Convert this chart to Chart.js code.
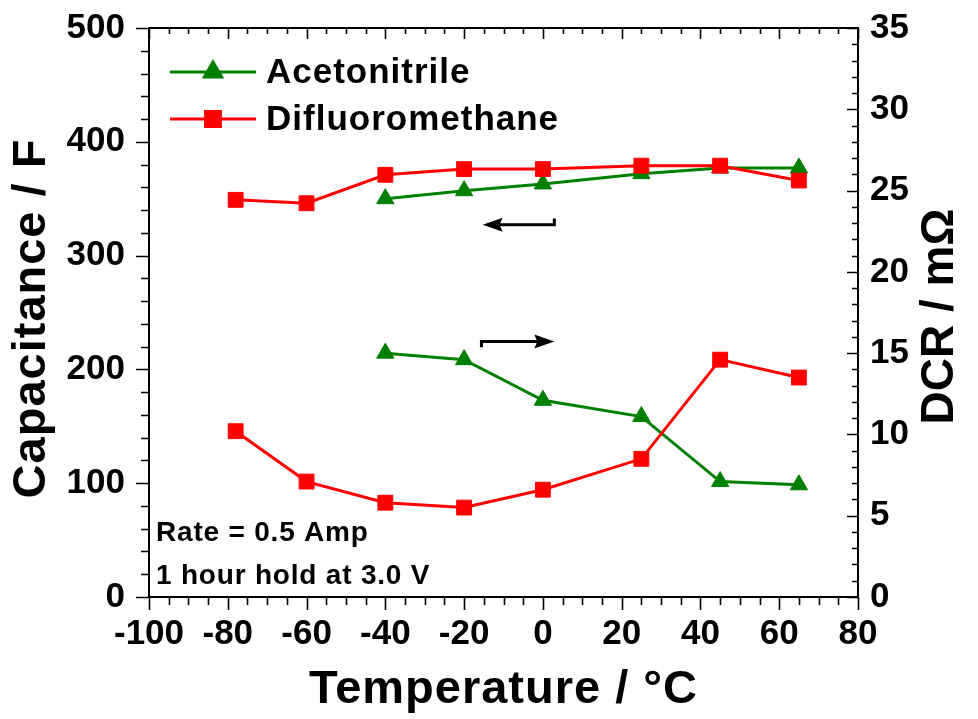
<!DOCTYPE html>
<html>
<head>
<meta charset="utf-8">
<script src="https://cdn.jsdelivr.net/npm/chart.js@4.4.0/dist/chart.umd.min.js"></script>
<style>
  html, body { margin: 0; padding: 0; background: #ffffff; }
  #wrap { width: 978px; height: 719px; }
</style>
</head>
<body>
<div id="wrap"><canvas id="c" width="978" height="719"></canvas></div>
<script>
// Temperatures (°C) of each measurement
const tempAcetonitrile = [-40, -20, 0, 25, 45, 65];
const tempDifluoromethane = [-78, -60, -40, -20, 0, 25, 45, 65];

// Capacitance (F), left axis
const capAcetonitrile = [350, 357, 363, 372, 377, 377];
const capDifluoromethane = [349, 346, 371, 376, 376, 379, 379, 366];

// DC resistance (mΩ), right axis
const dcrAcetonitrile = [15.0, 14.6, 12.1, 11.1, 7.1, 6.9];
const dcrDifluoromethane = [10.2, 7.1, 5.8, 5.5, 6.6, 8.5, 14.6, 13.5];

const seriesNames = ['Acetonitrile', 'Difluoromethane'];
const noteLines = ['Rate = 0.5 Amp', '1 hour hold at 3.0 V'];
const xTitle = 'Temperature / °C';
const yTitle = 'Capacitance / F';
const y1Title = 'DCR / mΩ';

const GREEN = '#008000';
const RED = '#ff0000';
const FONT = '"Liberation Sans", Arial, sans-serif';

function pts(xs, ys) { return xs.map((x, i) => ({ x: x, y: ys[i] })); }

function seriesStyle(color, shape, r) {
  return {
    borderColor: color, backgroundColor: color,
    pointBackgroundColor: color, pointBorderColor: color,
    borderWidth: 3, pointStyle: shape, pointRadius: r, pointHoverRadius: r,
    pointBorderWidth: 1, tension: 0, fill: false
  };
}

// fixed scale boxes so the plot area sits where it should
function fixBox(size, vertical) {
  return function (s) {
    if (vertical) { s.width = size; } else { s.height = size; }
    s.paddingTop = 0; s.paddingBottom = 0; s.paddingLeft = 0; s.paddingRight = 0;
  };
}

// minor/major ticks on all four sides plus the frame
const frameTicks = {
  id: 'frameTicks',
  afterDatasetsDraw(chart) {
    const ctx = chart.ctx, a = chart.chartArea;
    const sx = chart.scales.x, sy = chart.scales.y, sy1 = chart.scales.y1;
    ctx.save();
    ctx.strokeStyle = '#000';
    ctx.lineWidth = 2;
    ctx.lineCap = 'butt';
    ctx.beginPath();
    ctx.rect(a.left, a.top, a.right - a.left, a.bottom - a.top);
    ctx.stroke();
    ctx.lineWidth = 1.6;
    ctx.beginPath();
    // x: every 5, major every 20
    for (let v = -100; v <= 80; v += 5) {
      const px = Math.round(sx.getPixelForValue(v)) + 0.5;
      const major = v % 20 === 0;
      ctx.moveTo(px, a.bottom); ctx.lineTo(px, a.bottom + (major ? 13 : 8));
      ctx.moveTo(px, a.top); ctx.lineTo(px, a.top + (major ? 11 : 6));
    }
    // left: every 20, major every 100 (outward)
    for (let v = 0; v <= 500; v += 20) {
      const py = Math.round(sy.getPixelForValue(v)) + 0.5;
      const major = v % 100 === 0;
      ctx.moveTo(a.left, py); ctx.lineTo(a.left - (major ? 13 : 8), py);
    }
    // right: every 1, major every 5 (inward)
    for (let v = 0; v <= 35; v += 1) {
      const py = Math.round(sy1.getPixelForValue(v)) + 0.5;
      const major = v % 5 === 0;
      ctx.moveTo(a.right, py); ctx.lineTo(a.right - (major ? 11 : 6), py);
    }
    ctx.stroke();
    ctx.restore();
  }
};

// legend, arrows, notes and axis titles
const annotations = {
  id: 'annotations',
  afterDraw(chart) {
    const ctx = chart.ctx;
    const sx = chart.scales.x, sy = chart.scales.y;
    const a = chart.chartArea;
    ctx.save();

    // legend
    const entries = [
      { name: seriesNames[0], color: GREEN, shape: 'triangle', r: 10, y: 72 },
      { name: seriesNames[1], color: RED, shape: 'rect', r: 10.5, y: 119 }
    ];
    ctx.font = 'bold 35px ' + FONT;
    ctx.letterSpacing = '1px';
    ctx.textBaseline = 'middle';
    ctx.textAlign = 'left';
    entries.forEach(e => {
      ctx.strokeStyle = e.color; ctx.lineWidth = 3;
      ctx.beginPath(); ctx.moveTo(170, e.y); ctx.lineTo(256, e.y); ctx.stroke();
      ctx.fillStyle = e.color;
      Chart.helpers.drawPoint(ctx, { pointStyle: e.shape, radius: e.r, borderWidth: 1 }, 213, e.y);
      ctx.fill();
      ctx.fillStyle = '#000';
      ctx.fillText(e.name, 266, e.y + 1);
    });

    // arrows pointing at each series' axis
    ctx.strokeStyle = '#000'; ctx.fillStyle = '#000'; ctx.lineWidth = 3;
    const lx0 = sx.getPixelForValue(2.9), lx1 = sx.getPixelForValue(-15.3);
    const ly = sy.getPixelForValue(327), lyTick = sy.getPixelForValue(332.5);
    ctx.beginPath();
    ctx.moveTo(lx0, lyTick); ctx.lineTo(lx0, ly); ctx.lineTo(lx1 + 16, ly);
    ctx.stroke();
    ctx.beginPath();
    ctx.moveTo(lx1, ly); ctx.lineTo(lx1 + 20, ly - 7); ctx.lineTo(lx1 + 17, ly); ctx.lineTo(lx1 + 20, ly + 7);
    ctx.closePath(); ctx.fill();

    const rx0 = sx.getPixelForValue(-15.6), rx1 = sx.getPixelForValue(2.9);
    const ry = sy.getPixelForValue(224.5), ryTick = sy.getPixelForValue(219.5);
    ctx.beginPath();
    ctx.moveTo(rx0, ryTick); ctx.lineTo(rx0, ry); ctx.lineTo(rx1 - 16, ry);
    ctx.stroke();
    ctx.beginPath();
    ctx.moveTo(rx1, ry); ctx.lineTo(rx1 - 20, ry - 7); ctx.lineTo(rx1 - 17, ry); ctx.lineTo(rx1 - 20, ry + 7);
    ctx.closePath(); ctx.fill();

    // measurement conditions
    ctx.font = 'bold 28px ' + FONT;
    ctx.letterSpacing = '0.8px';
    ctx.textBaseline = 'alphabetic';
    ctx.fillText(noteLines[0], a.left + 7, 541);
    ctx.fillText(noteLines[1], a.left + 7, 584);

    // axis titles
    ctx.font = 'bold 47px ' + FONT;
    ctx.letterSpacing = '1px';
    ctx.textAlign = 'center';
    ctx.textBaseline = 'middle';
    ctx.fillText(xTitle, (a.left + a.right) / 2, 690);
    ctx.save();
    ctx.translate(32, (a.top + a.bottom) / 2 + 6);
    ctx.rotate(-Math.PI / 2);
    ctx.fillText(yTitle, 0, 0);
    ctx.restore();
    ctx.font = 'bold 46px ' + FONT;
    ctx.letterSpacing = '0px';
    ctx.save();
    ctx.translate(940, (a.top + a.bottom) / 2 + 4);
    ctx.rotate(-Math.PI / 2);
    ctx.fillText(y1Title, 0, 0);
    ctx.restore();

    ctx.restore();
  }
};

const tickFont = { family: FONT, size: 35, weight: 'bold' };

new Chart(document.getElementById('c'), {
  type: 'line',
  data: {
    datasets: [
      Object.assign({ label: seriesNames[0] + ' capacitance', data: pts(tempAcetonitrile, capAcetonitrile), yAxisID: 'y', order: 2 }, seriesStyle(GREEN, 'triangle', 10)),
      Object.assign({ label: seriesNames[1] + ' capacitance', data: pts(tempDifluoromethane, capDifluoromethane), yAxisID: 'y', order: 1 }, seriesStyle(RED, 'rect', 10.5)),
      Object.assign({ label: seriesNames[0] + ' DCR', data: pts(tempAcetonitrile, dcrAcetonitrile), yAxisID: 'y1', order: 2 }, seriesStyle(GREEN, 'triangle', 10)),
      Object.assign({ label: seriesNames[1] + ' DCR', data: pts(tempDifluoromethane, dcrDifluoromethane), yAxisID: 'y1', order: 1 }, seriesStyle(RED, 'rect', 10.5))
    ]
  },
  options: {
    responsive: false,
    animation: false,
    devicePixelRatio: 1,
    layout: { padding: { top: 28, left: 0, right: 0, bottom: 0 } },
    plugins: { legend: { display: false }, tooltip: { enabled: false } },
    scales: {
      x: {
        type: 'linear', position: 'bottom', min: -100, max: 80,
        grid: { display: false, drawTicks: false }, border: { display: false },
        ticks: { stepSize: 20, color: '#000', font: tickFont, padding: 16, maxRotation: 0, autoSkip: false },
        afterFit: fixBox(122, false)
      },
      y: {
        type: 'linear', position: 'left', min: 0, max: 500,
        grid: { display: false, drawTicks: false }, border: { display: false },
        ticks: { stepSize: 100, color: '#000', font: tickFont, padding: 24 },
        afterFit: fixBox(149, true)
      },
      y1: {
        type: 'linear', position: 'right', min: 0, max: 35,
        grid: { display: false, drawTicks: false }, border: { display: false },
        ticks: { stepSize: 5, color: '#000', font: tickFont, padding: 12 },
        afterFit: fixBox(120, true)
      }
    }
  },
  plugins: [frameTicks, annotations]
});
</script>
</body>
</html>
